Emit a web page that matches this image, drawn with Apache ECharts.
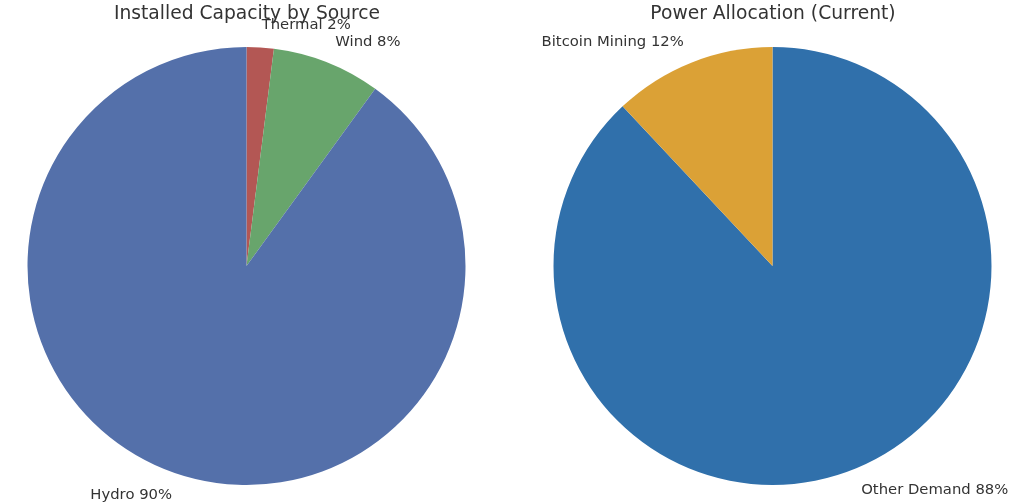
<!DOCTYPE html>
<html><head><meta charset="utf-8">
<script src="https://cdn.jsdelivr.net/npm/echarts@6/dist/echarts.min.js"></script>
<style>html,body{margin:0;padding:0;background:#fff}#c{width:1024px;height:503px}</style>
</head><body><div id="c"></div>
<script>
const capacityNames = ['Thermal', 'Wind', 'Hydro'];
const capacityValues = [2, 8, 90];
const capacityColors = ['#b35754', '#68a56c', '#5470aa'];
const allocationNames = ['Other Demand', 'Bitcoin Mining'];
const allocationValues = [88, 12];
const allocationColors = ['#3070ab', '#dba136'];
const titles = ['Installed Capacity by Source', 'Power Allocation (Current)'];

const chart = echarts.init(document.getElementById('c'), null, {renderer: 'canvas'});
const font = 'DejaVu Sans';
function pie(names, values, colors, cx) {
  return {
    type: 'pie',
    center: [cx, 266],
    radius: 219,
    startAngle: 90,
    clockwise: true,
    avoidLabelOverlap: false,
    silent: true,
    animation: false,
    data: names.map((n, i) => ({name: n, value: values[i], itemStyle: {color: colors[i]}})),
    label: {
      show: true, position: 'outside', formatter: p => p.name + ' ' + p.value + '%',
      fontFamily: font, fontSize: 14.8, color: '#333', distanceToLabelLine: 0
    },
    labelLine: {show: false, length: 22, length2: 0},
    emphasis: {disabled: true}
  };
}
const titleStyle = {fontFamily: font, fontSize: 18.7, fontWeight: 'normal', color: '#333'};
chart.setOption({
  animation: false,
  title: [
    {text: titles[0], left: 242, top: 0, textAlign: 'center', textStyle: titleStyle},
    {text: titles[1], left: 768, top: 0, textAlign: 'center', textStyle: titleStyle}
  ],
  series: [
    pie(capacityNames, capacityValues, capacityColors, 246.5),
    pie(allocationNames, allocationValues, allocationColors, 772.5)
  ]
});
</script></body></html>
